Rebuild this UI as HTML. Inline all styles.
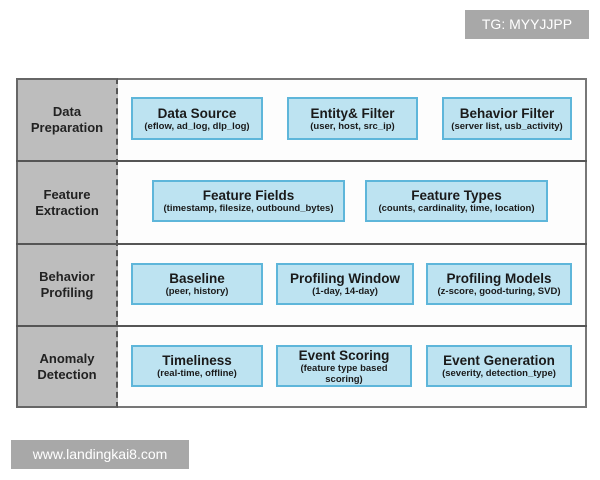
<!DOCTYPE html><html><head><style>
body{margin:0;width:600px;height:480px;background:#fff;position:relative;font-family:"Liberation Sans",sans-serif;overflow:hidden}
.a{position:absolute;box-sizing:border-box}
.out{left:16px;top:78px;width:571px;height:330px;border:2px solid #777;background:#fdfdfd}
.left{left:16px;top:78px;width:102px;height:330px;background:#bdbdbd;border:2px solid #666;border-right:2px dashed #555}
.hl{left:16px;width:571px;height:2px;background:#555}
.lab{left:18px;width:98px;text-align:center;font-weight:bold;font-size:13px;color:#222;line-height:16px;display:flex;align-items:center;justify-content:center}
.b{background:#bde3f1;border:2px solid #5eb6da;text-align:center;display:flex;flex-direction:column;justify-content:center;color:#1a1a1a}
.b b{font-size:13.5px;line-height:15px}
.b s{text-decoration:none;font-size:9.5px;font-weight:bold;line-height:11px}
</style></head><body>
<div class="a out"></div>
<div class="a left"></div>
<div class="a hl" style="top:160px"></div>
<div class="a hl" style="top:243px"></div>
<div class="a hl" style="top:325px"></div>
<div class="a lab" style="top:80px;height:80px">Data<br>Preparation</div>
<div class="a lab" style="top:162px;height:81px">Feature<br>Extraction</div>
<div class="a lab" style="top:245px;height:80px">Behavior<br>Profiling</div>
<div class="a lab" style="top:327px;height:80px">Anomaly<br>Detection</div>

<div class="a b" style="left:131px;top:97px;width:132px;height:43px"><b>Data Source</b><s>(eflow, ad_log, dlp_log)</s></div>
<div class="a b" style="left:287px;top:97px;width:131px;height:43px"><b>Entity&amp; Filter</b><s>(user, host, src_ip)</s></div>
<div class="a b" style="left:442px;top:97px;width:130px;height:43px"><b>Behavior Filter</b><s>(server list, usb_activity)</s></div>

<div class="a b" style="left:152px;top:180px;width:193px;height:42px"><b>Feature Fields</b><s>(timestamp, filesize, outbound_bytes)</s></div>
<div class="a b" style="left:365px;top:180px;width:183px;height:42px"><b>Feature Types</b><s>(counts, cardinality, time, location)</s></div>

<div class="a b" style="left:131px;top:263px;width:132px;height:42px"><b>Baseline</b><s>(peer, history)</s></div>
<div class="a b" style="left:276px;top:263px;width:138px;height:42px"><b>Profiling Window</b><s>(1-day, 14-day)</s></div>
<div class="a b" style="left:426px;top:263px;width:146px;height:42px"><b>Profiling Models</b><s>(z-score, good-turing, SVD)</s></div>

<div class="a b" style="left:131px;top:345px;width:132px;height:42px"><b>Timeliness</b><s>(real-time, offline)</s></div>
<div class="a b" style="left:276px;top:345px;width:136px;height:42px"><b>Event Scoring</b><s>(feature type based<br>scoring)</s></div>
<div class="a b" style="left:426px;top:345px;width:146px;height:42px"><b>Event Generation</b><s>(severity, detection_type)</s></div>

<div class="a" style="left:465px;top:10px;width:124px;height:29px;background:#a8a8a8;color:#fff;font-size:14px;line-height:29px;text-align:center">TG: MYYJJPP</div>
<div class="a" style="left:11px;top:440px;width:178px;height:29px;background:#a8a8a8;color:#fff;font-size:14px;line-height:29px;text-align:center">www.landingkai8.com</div>
</body></html>
